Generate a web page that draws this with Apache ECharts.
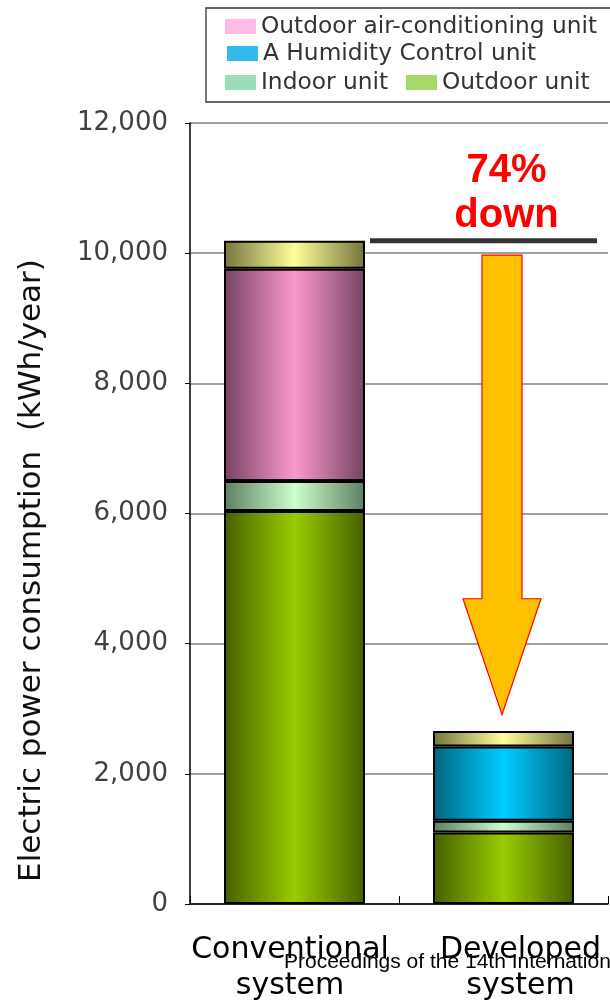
<!DOCTYPE html>
<html>
<head>
<meta charset="utf-8">
<script src="https://cdn.jsdelivr.net/npm/echarts@6/dist/echarts.min.js"></script>
<style>
  html, body { margin: 0; padding: 0; background: #fff; }
  #chart { width: 610px; height: 1006px; }
</style>
</head>
<body>
<div id="chart"></div>
<script>
const categories = ['Conventional\nsystem', 'Developed\nsystem'];
const outdoorUnit = [6040, 1100];
const indoorUnit = [460, 180];
const outdoorAirCon = [3260, null];
const humidityCtrl = [null, 1140];
const otherPart = [430, 240];
const yTicks = [0, 2000, 4000, 6000, 8000, 10000, 12000];

// arrow levels (kWh/year) for the 74% annotation
const arrowTop = 9970;
const arrowHead = 4690;
const arrowTip = 2910;

const chart = echarts.init(document.getElementById('chart'));

function grad(edge, mid) {
  return new echarts.graphic.LinearGradient(0, 0, 1, 0, [
    { offset: 0, color: edge },
    { offset: 0.5, color: mid },
    { offset: 1, color: edge }
  ]);
}

function barSeries(name, data, edge, mid) {
  return {
    name: name,
    type: 'bar',
    stack: 'total',
    barWidth: 141,
    data: data,
    itemStyle: { color: grad(edge, mid), borderColor: '#000', borderWidth: 2 },
    emphasis: { disabled: true }
  };
}

function legendItem(name, color, left, top) {
  return {
    data: [{ name: name, itemStyle: { color: color, borderWidth: 0 } }],
    left: left,
    top: top,
    padding: 0,
    icon: 'rect',
    itemWidth: 31,
    itemHeight: 15,
    selectedMode: false,
    textStyle: { fontFamily: 'DejaVu Sans', fontSize: 23.3, color: '#333' }
  };
}

const option = {
  animation: false,
  backgroundColor: '#fff',
  grid: { left: 190, right: 2, top: 123, bottom: 102, outerBoundsMode: 'none', containLabel: false },
  legend: [
    legendItem('Outdoor air-conditioning unit', '#ffbbe6', 225, 15),
    legendItem('A Humidity Control unit', '#33bbee', 227, 42),
    legendItem('Indoor unit', '#99ddbb', 225, 71),
    legendItem('Outdoor unit', '#a6d96a', 406, 71)
  ],
  xAxis: {
    type: 'category',
    data: [
      { value: categories[0], textStyle: { padding: [0, 9, 0, 0] } },
      { value: categories[1], textStyle: { padding: [0, 0, 0, 34] } }
    ],
    axisLine: { lineStyle: { color: '#000', width: 1.5 } },
    axisTick: { show: true, inside: true, length: 8, lineStyle: { color: '#000' } },
    axisLabel: {
      interval: 0,
      hideOverlap: false,
      fontFamily: 'DejaVu Sans',
      fontSize: 30,
      lineHeight: 36,
      color: '#000',
      margin: 28
    }
  },
  yAxis: {
    type: 'value',
    min: 0,
    max: 12000,
    interval: 2000,
    name: 'Electric power consumption  (kWh/year)',
    nameLocation: 'middle',
    nameRotate: 90,
    nameGap: 143,
    nameTextStyle: { fontFamily: 'DejaVu Sans', fontSize: 31, color: '#111', padding: [0, 114, 0, 0] },
    axisLine: { show: true, lineStyle: { color: '#000', width: 1.5 } },
    axisTick: { show: true, length: 5, lineStyle: { color: '#000' } },
    splitLine: { lineStyle: { color: '#808080', width: 1.5 } },
    axisLabel: {
      fontFamily: 'DejaVu Sans',
      fontSize: 26,
      color: '#404040',
      margin: 22,
      formatter: function (v) { return yTicks.indexOf(v) >= 0 ? v.toLocaleString('en-US') : ''; }
    }
  },
  series: [
    barSeries('Outdoor unit', outdoorUnit, '#465f00', '#99cc00'),
    barSeries('Indoor unit', indoorUnit, '#5e7e62', '#ccffcc'),
    barSeries('Outdoor air-conditioning unit', outdoorAirCon, '#764263', '#fb99cc'),
    barSeries('A Humidity Control unit', humidityCtrl, '#006680', '#00ccff'),
    barSeries('Other', otherPart, '#74743e', '#ffff99')
  ]
};

chart.setOption(option);

// annotation: reduction line, arrow, label
const total0 = outdoorUnit[0] + indoorUnit[0] + outdoorAirCon[0] + otherPart[0];
const c0 = chart.convertToPixel({ xAxisIndex: 0 }, 0);
const c1 = chart.convertToPixel({ xAxisIndex: 0 }, 1);
const yTotal = chart.convertToPixel({ yAxisIndex: 0 }, total0);
const yTop = chart.convertToPixel({ yAxisIndex: 0 }, arrowTop);
const yHead = chart.convertToPixel({ yAxisIndex: 0 }, arrowHead);
const yTip = chart.convertToPixel({ yAxisIndex: 0 }, arrowTip);
const ax = c1 - 1.5;

chart.setOption({
  graphic: [
    {
      type: 'rect',
      shape: { x: 206, y: 8, width: 410, height: 94 },
      style: { fill: 'none', stroke: '#333', lineWidth: 1.3 },
      silent: true
    },
    {
      type: 'line',
      shape: { x1: c0 + 75.5, y1: yTotal, x2: c1 + 93.5, y2: yTotal },
      style: { stroke: '#333', lineWidth: 5 },
      silent: true
    },
    {
      type: 'polygon',
      shape: {
        points: [
          [ax - 20, yTop], [ax + 20, yTop], [ax + 20, yHead], [ax + 39, yHead],
          [ax, yTip], [ax - 39, yHead], [ax - 20, yHead]
        ]
      },
      style: { fill: '#ffc000', stroke: '#ff0000', lineWidth: 1.2 },
      silent: true
    },
    {
      type: 'text',
      x: c1 + 3,
      y: 148,
      style: {
        text: '74%\ndown',
        fontFamily: 'Liberation Sans',
        fontWeight: 'bold',
        fontSize: 40,
        lineHeight: 45,
        fill: '#ff0000',
        align: 'center'
      },
      silent: true
    },
    {
      type: 'text',
      x: 284,
      y: 952,
      z: 100,
      style: {
        text: 'Proceedings of the 14th International',
        fontFamily: 'Liberation Sans',
        fontSize: 21,
        fill: '#000'
      },
      silent: true
    }
  ]
});
</script>
</body>
</html>
